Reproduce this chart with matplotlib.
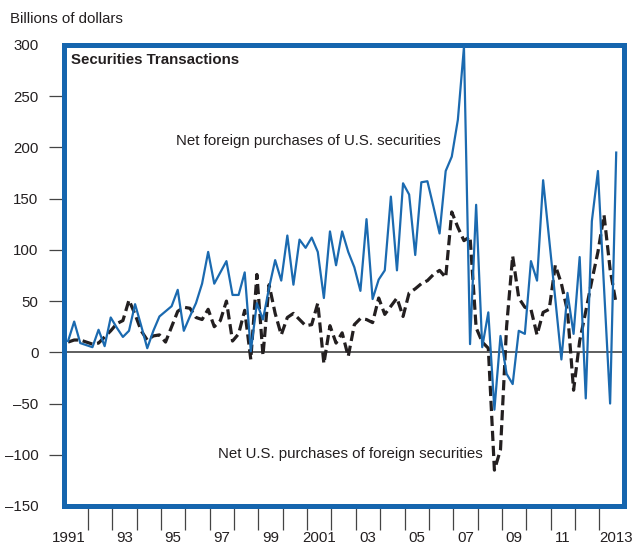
import numpy as np
import matplotlib
matplotlib.use("Agg")
import matplotlib.pyplot as plt

# ---- data (quarterly, 1991Q1 .. 2013Q3), billions of dollars ----
start_year = 1991
foreign_purchases_us = [
    11, 30, 9, 7, 5, 22, 6, 34, 24, 15, 21, 47, 26, 4, 21, 35,
    40, 45, 61, 21, 35, 48, 67, 98, 67, 78, 89, 56, 56, 78, 1, 48,
    32, 63, 90, 70, 114, 66, 110, 102, 112, 98, 53, 118, 85, 118, 98, 83,
    60, 130, 52, 71, 80, 152, 80, 165, 154, 95, 166, 167, 142, 116, 177, 191,
    227, 298, 8, 144, 5, 39, -56, 16, -21, -31, 21, 18, 89, 70, 168, 110,
    52, -7, 58, 18, 93, -45, 128, 177, 63, -50, 195,
]
us_purchases_foreign = [
    10, 12, 12, 10, 8, 9, 15, 21, 28, 31, 51, 37, 21, 12, 16, 17,
    10, 25, 40, 44, 43, 34, 32, 42, 25, 31, 50, 11, 18, 41, -7, 76,
    -3, 66, 38, 17, 34, 38, 32, 26, 27, 48, -11, 26, 9, 19, -4, 27,
    33, 32, 29, 53, 37, 45, 53, 35, 58, 62, 67, 70, 76, 80, 73, 137,
    122, 109, 113, 24, 10, 4, -115, -95, 25, 94, 53, 44, 42, 17, 39, 42,
    85, 67, 40, -37, 11, 40, 70, 98, 134, 81, 47,
]
year_labels = ["1991", "93", "95", "97", "99", "2001", "03", "05", "07", "09", "11", "2013"]
label_years = [1991, 1993, 1995, 1997, 1999, 2001, 2003, 2005, 2007, 2009, 2011, 2013]
yticks = [-150, -100, -50, 0, 50, 100, 150, 200, 250, 300]

t = start_year + (np.arange(len(foreign_purchases_us)) + 0.75) / 4.0

BLUE = "#1b6ab0"
BORDER = "#1565ae"
TXT = "#231f20"
FS = 10.8
plt.rcParams["font.family"] = ["Liberation Sans", "DejaVu Sans"]

fig = plt.figure(figsize=(6.41, 5.44), dpi=100)
ax = fig.add_axes([0.0991, 0.0699, 0.8741, 0.8474])

ax.axhline(0, color="#333333", lw=1.1, zorder=1)
ax.plot(t, foreign_purchases_us, color=BLUE, lw=1.6, zorder=3)
ax.plot(t, us_purchases_foreign, color=TXT, lw=2.3, dashes=(3.2, 1.5), zorder=2)

ax.set_xlim(1991, 2014)
ax.set_ylim(-150, 300)

for s in ax.spines.values():
    s.set_color(BORDER)
    s.set_linewidth(3.6)

ax.set_yticks(yticks)
ax.set_yticklabels(["\u2013150", "\u2013100", "\u201350", "0", "50", "100", "150", "200", "250", "300"])
ax.tick_params(axis="y", direction="out", length=11, width=0.9, color="#444444",
               pad=7, labelsize=FS, labelcolor=TXT)
yt = ax.yaxis.get_major_ticks()
yt[0].tick1line.set_visible(False)
yt[-1].tick1line.set_visible(False)

ax.set_xticks(np.arange(1992, 2014))
ax.set_xticklabels([])
ax.tick_params(axis="x", which="major", direction="out", length=17, width=0.9, color="#444444")
pos = []
for y in label_years:
    p = y + 0.5
    if y == 1991:
        p = y + 0.22
    if y == 2013:
        p = y + 0.68
    pos.append(p)
ax.set_xticks(pos, minor=True)
ax.set_xticklabels(year_labels, minor=True)
ax.tick_params(axis="x", which="minor", length=0, pad=18, labelsize=FS, labelcolor=TXT)

ax.text(0.013, 0.967, "Securities Transactions", transform=ax.transAxes, ha="left", va="center",
        fontsize=FS, fontweight="bold", color=TXT)
ax.text(1995.62, 206, "Net foreign purchases of U.S. securities", ha="left", va="center",
        fontsize=FS, color=TXT)
ax.text(1997.34, -99, "Net U.S. purchases of foreign securities", ha="left", va="center",
        fontsize=FS, color=TXT)
fig.text(0.015, 0.965, "Billions of dollars", ha="left", va="center", fontsize=FS, color=TXT)

fig.savefig("out.png", dpi=100)
